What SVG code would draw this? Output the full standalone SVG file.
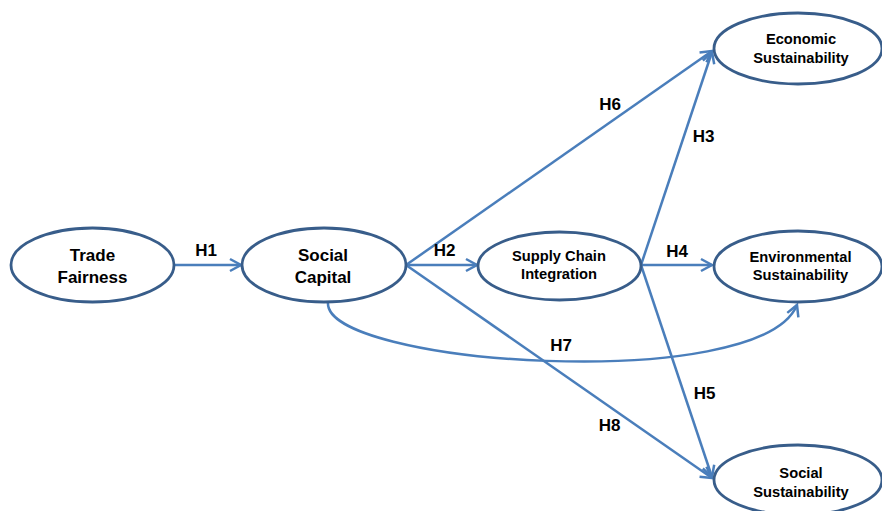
<svg xmlns="http://www.w3.org/2000/svg" width="882" height="511" viewBox="0 0 882 511">
<defs>
<marker id="arr" markerUnits="userSpaceOnUse" markerWidth="16" markerHeight="16" refX="12" refY="7" orient="auto" viewBox="0 0 16 14">
<path d="M1,1 L12,7 L1,13" fill="none" stroke="#4a7ebb" stroke-width="2.5" stroke-linejoin="miter"/>
</marker>
</defs>
<style>
.n ellipse{fill:#ffffff;stroke:#385d8a;stroke-width:2.8}
.n text{font-family:"Liberation Sans","Noto Sans",sans-serif;font-weight:bold;fill:#000;text-anchor:middle}
.big{font-size:17px}
.sm{font-size:14.7px}
.c path,.c line{fill:none;stroke:#4a7ebb;stroke-width:2.5;marker-end:url(#arr)}
.lbl{font-family:"Liberation Sans","Noto Sans",sans-serif;font-weight:bold;font-size:17px;fill:#000;text-anchor:middle}
</style>
<rect width="882" height="511" fill="#ffffff"/>
<g id="connectors" class="c">
<line x1="174" y1="265" x2="241" y2="265"/>
<line x1="406" y1="265" x2="477" y2="265"/>
<line x1="406" y1="265" x2="712" y2="51"/>
<line x1="406" y1="265" x2="712" y2="478"/>
<path d="M328,302 C322,365 760,395 797,305"/>
<line x1="641" y1="265" x2="712" y2="52"/>
<line x1="641" y1="265" x2="712" y2="265"/>
<line x1="641" y1="265" x2="712" y2="477"/>
</g>
<g id="labels">
<text class="lbl" x="206" y="256">H1</text>
<text class="lbl" x="444.5" y="256">H2</text>
<text class="lbl" x="610" y="110">H6</text>
<text class="lbl" x="703.5" y="142">H3</text>
<text class="lbl" x="677" y="257">H4</text>
<text class="lbl" x="561" y="351">H7</text>
<text class="lbl" x="704.5" y="399">H5</text>
<text class="lbl" x="609.5" y="431">H8</text>
</g>
<g id="trade-fairness" class="n">
<ellipse cx="92.5" cy="265" rx="81.5" ry="37"/>
<text class="big" x="92.5" y="261">Trade</text>
<text class="big" x="92.5" y="283">Fairness</text>
</g>
<g id="social-capital" class="n">
<ellipse cx="324" cy="265" rx="82" ry="37"/>
<text class="big" x="323" y="261">Social</text>
<text class="big" x="323" y="283">Capital</text>
</g>
<g id="supply-chain-integration" class="n">
<ellipse cx="559.5" cy="266" rx="81.5" ry="34"/>
<text class="sm" x="559" y="261">Supply Chain</text>
<text class="sm" x="559" y="279">Integration</text>
</g>
<g id="economic-sustainability" class="n">
<ellipse cx="798" cy="48.5" rx="84" ry="35.5"/>
<text class="sm" x="801" y="44">Economic</text>
<text class="sm" x="801" y="62.5">Sustainability</text>
</g>
<g id="environmental-sustainability" class="n">
<ellipse cx="798" cy="266.5" rx="84" ry="35.5"/>
<text class="sm" x="800.5" y="261.5">Environmental</text>
<text class="sm" x="800.5" y="280">Sustainability</text>
</g>
<g id="social-sustainability" class="n">
<ellipse cx="798" cy="480" rx="84" ry="35"/>
<text class="sm" x="801" y="477.5">Social</text>
<text class="sm" x="801" y="496.5">Sustainability</text>
</g>
</svg>
